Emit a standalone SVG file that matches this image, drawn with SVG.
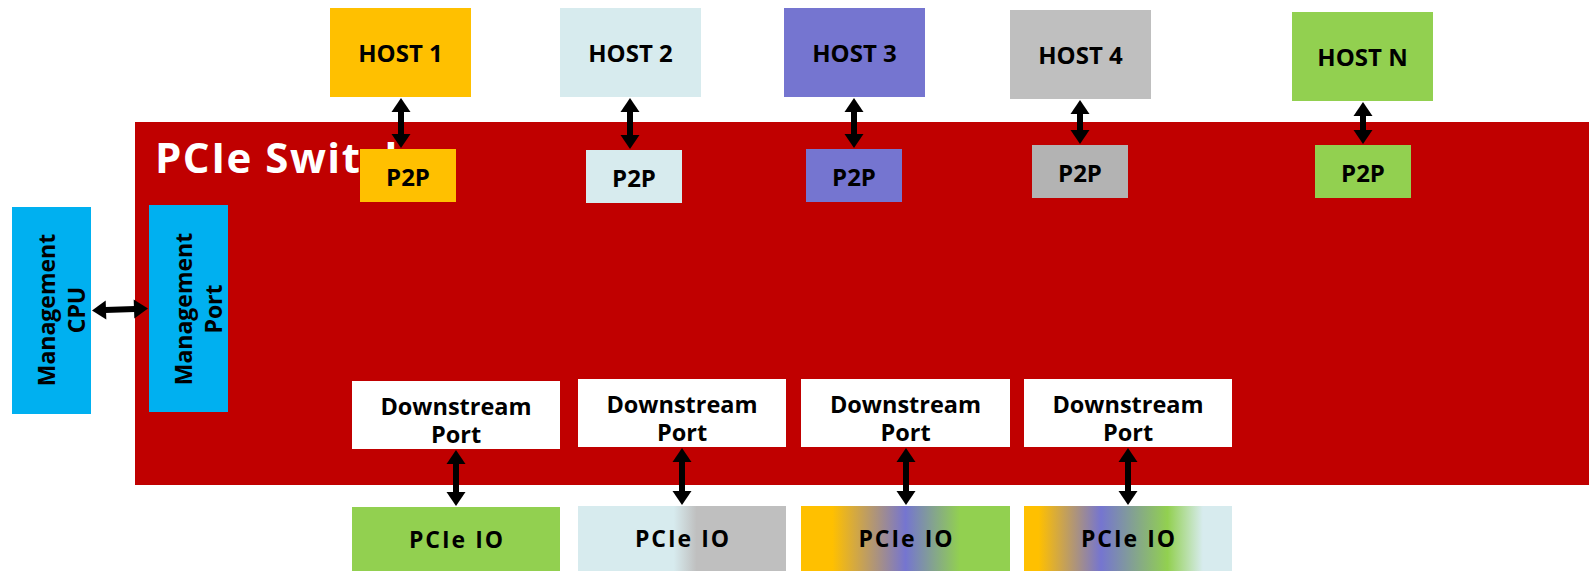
<svg xmlns="http://www.w3.org/2000/svg" width="1589" height="571" viewBox="0 0 1589 571">
  <defs>
    <style>
      .lbl { font-family: "Open Sans", "Liberation Sans", sans-serif; font-weight: 700; fill: #000; text-anchor: middle; }
      .host { font-size: 24px; }
      .p2p { font-size: 24px; }
      .dp { font-size: 23.5px; }
      .io { font-size: 23px; letter-spacing: 2px; }
      .mg { font-size: 23px; }
      .title { font-family: "Open Sans", "Liberation Sans", sans-serif; font-weight: 700; font-size: 42px; fill: #fff; letter-spacing: 1.5px; }
      .link { stroke: #000; stroke-width: 6; fill: none; }
    </style>
    <marker id="head" viewBox="0 -10 14 20" refX="1" refY="0" markerWidth="14" markerHeight="20" markerUnits="userSpaceOnUse" orient="auto-start-reverse" overflow="visible">
      <path d="M0,-9.5 L14,0 L0,9.5 Z" fill="#000"/>
    </marker>
    <linearGradient id="grad-io2" x1="0" y1="0" x2="1" y2="0">
      <stop offset="0" stop-color="#D7EBEE"/>
      <stop offset="0.46" stop-color="#D7EBEE"/>
      <stop offset="0.57" stop-color="#BFBFBF"/>
      <stop offset="1" stop-color="#BFBFBF"/>
    </linearGradient>
    <linearGradient id="grad-io3" x1="0" y1="0" x2="1" y2="0">
      <stop offset="0" stop-color="#FFC000"/>
      <stop offset="0.15" stop-color="#FFC000"/>
      <stop offset="0.5" stop-color="#7575D0"/>
      <stop offset="0.76" stop-color="#92D050"/>
      <stop offset="1" stop-color="#92D050"/>
    </linearGradient>
    <linearGradient id="grad-io4" x1="0" y1="0" x2="1" y2="0">
      <stop offset="0" stop-color="#FFC000"/>
      <stop offset="0.07" stop-color="#FFC000"/>
      <stop offset="0.37" stop-color="#7575D0"/>
      <stop offset="0.69" stop-color="#92D050"/>
      <stop offset="0.86" stop-color="#D7EBEE"/>
      <stop offset="1" stop-color="#D7EBEE"/>
    </linearGradient>
  </defs>

  <rect width="1589" height="571" fill="#fff"/>

  <!-- switch body with its title -->
  <g id="pcie-switch">
    <rect x="135" y="122" width="1454" height="363" fill="#C00000"/>
    <text class="title" x="155" y="173">PCIe Switch</text>
  </g>

  <!-- hosts -->
  <g id="host-1"><rect x="330" y="8" width="141" height="89" fill="#FFC000"/><text class="lbl host" x="400.5" y="62">HOST 1</text></g>
  <g id="host-2"><rect x="560" y="8" width="141" height="89" fill="#D7EBEE"/><text class="lbl host" x="630.5" y="62">HOST 2</text></g>
  <g id="host-3"><rect x="784" y="8" width="141" height="89" fill="#7575D0"/><text class="lbl host" x="854.5" y="62">HOST 3</text></g>
  <g id="host-4"><rect x="1010" y="10" width="141" height="89" fill="#BFBFBF"/><text class="lbl host" x="1080.5" y="64">HOST 4</text></g>
  <g id="host-n"><rect x="1292" y="12" width="141" height="89" fill="#92D050"/><text class="lbl host" x="1362.5" y="66">HOST N</text></g>

  <!-- upstream P2P ports -->
  <g id="p2p-1"><rect x="360" y="149" width="96" height="53" fill="#FFC000"/><text class="lbl p2p" x="408" y="186">P2P</text></g>
  <g id="p2p-2"><rect x="586" y="150" width="96" height="53" fill="#D7EBEE"/><text class="lbl p2p" x="634" y="187">P2P</text></g>
  <g id="p2p-3"><rect x="806" y="149" width="96" height="53" fill="#7575D0"/><text class="lbl p2p" x="854" y="186">P2P</text></g>
  <g id="p2p-4"><rect x="1032" y="145" width="96" height="53" fill="#B3B3B3"/><text class="lbl p2p" x="1080" y="182">P2P</text></g>
  <g id="p2p-n"><rect x="1315" y="145" width="96" height="53" fill="#92D050"/><text class="lbl p2p" x="1363" y="182">P2P</text></g>

  <!-- management -->
  <g id="mgmt-cpu">
    <rect x="12" y="207" width="79" height="207" fill="#00B0F0"/>
    <g transform="translate(51.5,310) rotate(-90)">
      <text class="lbl mg" x="0" y="3.5">Management</text>
      <text class="lbl mg" x="0" y="33.5">CPU</text>
    </g>
  </g>
  <g id="mgmt-port">
    <rect x="149" y="205" width="79" height="207" fill="#00B0F0"/>
    <g transform="translate(188.5,309) rotate(-90)">
      <text class="lbl mg" x="0" y="3.5">Management</text>
      <text class="lbl mg" x="0" y="33.5">Port</text>
    </g>
  </g>

  <!-- downstream ports -->
  <g id="dp-1"><rect x="352" y="381" width="208" height="68" fill="#fff"/><text class="lbl dp" x="456" y="415">Downstream</text><text class="lbl dp" x="456" y="443">Port</text></g>
  <g id="dp-2"><rect x="578" y="379" width="208" height="68" fill="#fff"/><text class="lbl dp" x="682" y="413">Downstream</text><text class="lbl dp" x="682" y="441">Port</text></g>
  <g id="dp-3"><rect x="801" y="379" width="209" height="68" fill="#fff"/><text class="lbl dp" x="905.5" y="413">Downstream</text><text class="lbl dp" x="905.5" y="441">Port</text></g>
  <g id="dp-4"><rect x="1024" y="379" width="208" height="68" fill="#fff"/><text class="lbl dp" x="1128" y="413">Downstream</text><text class="lbl dp" x="1128" y="441">Port</text></g>

  <!-- endpoints -->
  <g id="io-1"><rect x="352" y="507" width="208" height="64" fill="#92D050"/><text class="lbl io" x="457" y="548">PCIe IO</text></g>
  <g id="io-2"><rect x="578" y="506" width="208" height="65" fill="url(#grad-io2)"/><text class="lbl io" x="683" y="547">PCIe IO</text></g>
  <g id="io-3"><rect x="801" y="506" width="209" height="65" fill="url(#grad-io3)"/><text class="lbl io" x="906.5" y="547">PCIe IO</text></g>
  <g id="io-4"><rect x="1024" y="506" width="208" height="65" fill="url(#grad-io4)"/><text class="lbl io" x="1129" y="547">PCIe IO</text></g>

  <!-- bidirectional links -->
  <g id="connectors">
    <line class="link" x1="401" y1="111" x2="401" y2="135" marker-start="url(#head)" marker-end="url(#head)"/>
    <line class="link" x1="630" y1="111" x2="630" y2="136" marker-start="url(#head)" marker-end="url(#head)"/>
    <line class="link" x1="854" y1="111" x2="854" y2="135" marker-start="url(#head)" marker-end="url(#head)"/>
    <line class="link" x1="1080" y1="113" x2="1080" y2="131" marker-start="url(#head)" marker-end="url(#head)"/>
    <line class="link" x1="1363" y1="115" x2="1363" y2="131" marker-start="url(#head)" marker-end="url(#head)"/>
    <line class="link" x1="105" y1="310" x2="135" y2="309" marker-start="url(#head)" marker-end="url(#head)"/>
    <line class="link" x1="456" y1="463" x2="456" y2="493" marker-start="url(#head)" marker-end="url(#head)"/>
    <line class="link" x1="682" y1="461" x2="682" y2="492" marker-start="url(#head)" marker-end="url(#head)"/>
    <line class="link" x1="906" y1="461" x2="906" y2="492" marker-start="url(#head)" marker-end="url(#head)"/>
    <line class="link" x1="1128" y1="461" x2="1128" y2="492" marker-start="url(#head)" marker-end="url(#head)"/>
  </g>
</svg>
